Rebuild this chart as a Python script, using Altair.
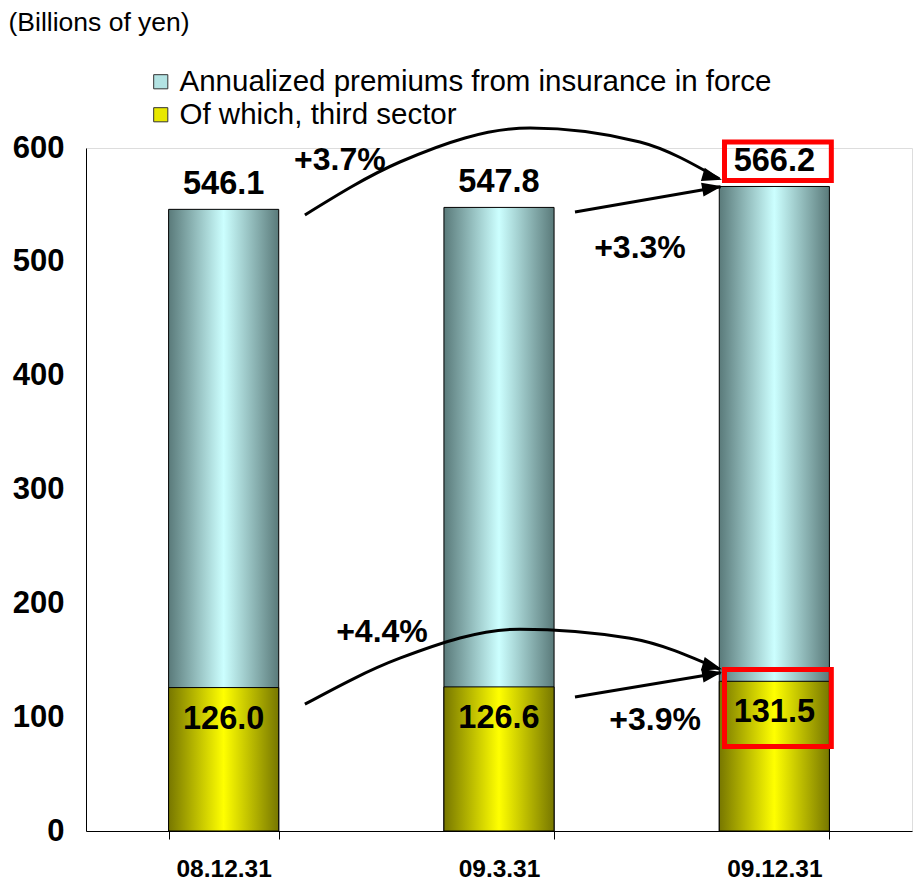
import altair as alt
import pandas as pd

FONT = "Liberation Sans, Arial, sans-serif"

# ---- data ----
dates = ["08.12.31", "09.3.31", "09.12.31"]
total_premiums = [546.1, 547.8, 566.2]
third_sector = [126.0, 126.6, 131.5]
series_names = ["Annualized premiums from insurance in force", "Of which, third sector"]

# annotations: x in category units (category i centred at i+0.5), y in billions of yen
arrow_group = ["up_curve"] * 5 + ["up_straight"] * 2 + ["lo_curve"] * 5 + ["lo_straight"] * 2
arrow_order = [0, 1, 2, 3, 4, 0, 1, 0, 1, 2, 3, 4, 0, 1]
arrow_x = [0.795, 1.140, 1.613, 2.012, 2.300, 1.776, 2.305, 0.795, 1.140, 1.576, 1.976, 2.300, 1.776, 2.305]
arrow_y = [541.2, 587.7, 617.6, 605.3, 573.0, 543.8, 566.0, 111.4, 151.8, 177.3, 169.4, 142.2, 117.7, 139.0]

head_x = [2.310, 2.310, 2.310, 2.310]
head_y = [572.0, 566.5, 142.0, 139.5]
head_angle = [106, 80, 106, 80]

pct_labels = ["+3.7%", "+3.3%", "+4.4%", "+3.9%"]
pct_x = [0.922, 2.012, 1.075, 2.067]
pct_y = [589.5, 512.2, 174.8, 97.5]

box_x = [2.319, 2.319]
box_x2 = [2.707, 2.707]
box_y = [605.2, 141.9]
box_y2 = [571.5, 74.2]

# ---- tables ----
bars = pd.DataFrame({"date": dates, "total": total_premiums, "third": third_sector})
arrows = pd.DataFrame({"g": arrow_group, "o": arrow_order, "x": arrow_x, "y": arrow_y})
heads = pd.DataFrame({"x": head_x, "y": head_y, "a": head_angle})
pcts = pd.DataFrame({"t": pct_labels, "x": pct_x, "y": pct_y})
boxes = pd.DataFrame({"x": box_x, "x2": box_x2, "y": box_y, "y2": box_y2})
legend_df = pd.DataFrame({"series": series_names})

teal_grad = alt.LinearGradient(
    gradient="linear", x1=0, x2=1, y1=0, y2=0,
    stops=[alt.GradientStop(color="#5a7a7a", offset=0),
           alt.GradientStop(color="#ccffff", offset=0.5),
           alt.GradientStop(color="#5a7a7a", offset=1)])
yellow_grad = alt.LinearGradient(
    gradient="linear", x1=0, x2=1, y1=0, y2=0,
    stops=[alt.GradientStop(color="#777700", offset=0),
           alt.GradientStop(color="#ffff00", offset=0.5),
           alt.GradientStop(color="#777700", offset=1)])

yscale = alt.Scale(domain=[0, 600], nice=False, zero=True)
xq = alt.Scale(domain=[0, 3], nice=False, zero=False)

x_band = alt.X("date:N", sort=dates,
               scale=alt.Scale(paddingInner=0.6, paddingOuter=0.3),
               axis=alt.Axis(title=None, labelAngle=0, labelFontSize=24.5, labelFontWeight="bold",
                             labelFont=FONT, labelColor="black", tickBand="extent", tickSize=8,
                             tickColor="black", labelPadding=18, domainColor="black", grid=False))
y_main = alt.Y("total:Q", scale=yscale,
               axis=alt.Axis(values=[0, 100, 200, 300, 400, 500, 600], ticks=False, grid=False,
                             labelFontSize=31, labelFontWeight="bold", labelFont=FONT,
                             labelColor="black", labelPadding=22, domainColor="black",
                             title="(Billions of yen)", titleAngle=0, titleAlign="left",
                             titleBaseline="middle", titleX=-78, titleY=-126, titleFontSize=26.5,
                             titleFontWeight="normal", titleFont=FONT, titleColor="black"))

base = alt.Chart(bars)
total_bar = base.mark_bar(fill=teal_grad, stroke="black", strokeWidth=1).encode(
    x=x_band, y=y_main)
third_bar = base.mark_bar(fill=yellow_grad, stroke="black", strokeWidth=1).encode(
    x=alt.X("date:N", sort=dates), y=alt.Y("third:Q", scale=yscale))
total_lbl = base.mark_text(font=FONT, fontSize=32.5, fontWeight="bold", color="black",
                           baseline="middle", dy=-25).encode(
    x=alt.X("date:N", sort=dates), y=alt.Y("total:Q", scale=yscale),
    text=alt.Text("total:Q", format=".1f"))
third_lbl = base.mark_text(font=FONT, fontSize=32.5, fontWeight="bold", color="black",
                           baseline="middle", dy=31).encode(
    x=alt.X("date:N", sort=dates), y=alt.Y("third:Q", scale=yscale),
    text=alt.Text("third:Q", format=".1f"))
bar_layer = alt.layer(total_bar, third_bar, total_lbl, third_lbl)

arrow_lines = alt.Chart(arrows).mark_line(color="black", strokeWidth=3, interpolate="monotone",
                                          clip=False).encode(
    x=alt.X("x:Q", scale=xq, axis=None), y=alt.Y("y:Q", scale=yscale),
    detail="g:N", order="o:Q")
arrow_heads = alt.Chart(heads).mark_point(shape="M0,0 L-0.7,2 L0.7,2 Z", filled=True,
                                          color="black", opacity=1, size=400).encode(
    x=alt.X("x:Q", scale=xq, axis=None), y=alt.Y("y:Q", scale=yscale),
    angle=alt.Angle("a:Q", scale=None))
pct_text = alt.Chart(pcts).mark_text(font=FONT, fontSize=32, fontWeight="bold", color="black",
                                     baseline="middle").encode(
    x=alt.X("x:Q", scale=xq, axis=None), y=alt.Y("y:Q", scale=yscale), text="t:N")
red_boxes = alt.Chart(boxes).mark_rect(fill=None, fillOpacity=0, stroke="#ff0000",
                                       strokeWidth=5).encode(
    x=alt.X("x:Q", scale=xq, axis=None), x2="x2:Q",
    y=alt.Y("y:Q", scale=yscale), y2="y2:Q")

legend_layer = alt.Chart(legend_df).mark_square(opacity=0, size=1).encode(
    color=alt.Color("series:N", sort=series_names,
                    scale=alt.Scale(domain=series_names, range=["#b3e3e3", "#e8e800"]),
                    legend=alt.Legend(title=None, orient="none", legendX=60, legendY=-81,
                                      symbolType="square", symbolSize=200, symbolOpacity=1,
                                      symbolStrokeColor="#333333", symbolStrokeWidth=1,
                                      labelFontSize=29.5, labelFont=FONT, labelColor="black",
                                      labelOffset=4, rowPadding=2, padding=0,
                                      labelLimit=800)))

chart = alt.layer(bar_layer, red_boxes, arrow_lines, arrow_heads, pct_text, legend_layer).resolve_scale(
    x="independent"
).properties(
    width=826, height=683,
    padding={"left": 78, "top": 140, "right": 2, "bottom": 56},
    autosize=alt.AutoSizeParams(type="none"),
).configure_view(stroke=None).configure(background="white")

chart.save("out.html", embed_options={"renderer": "svg", "actions": False})
